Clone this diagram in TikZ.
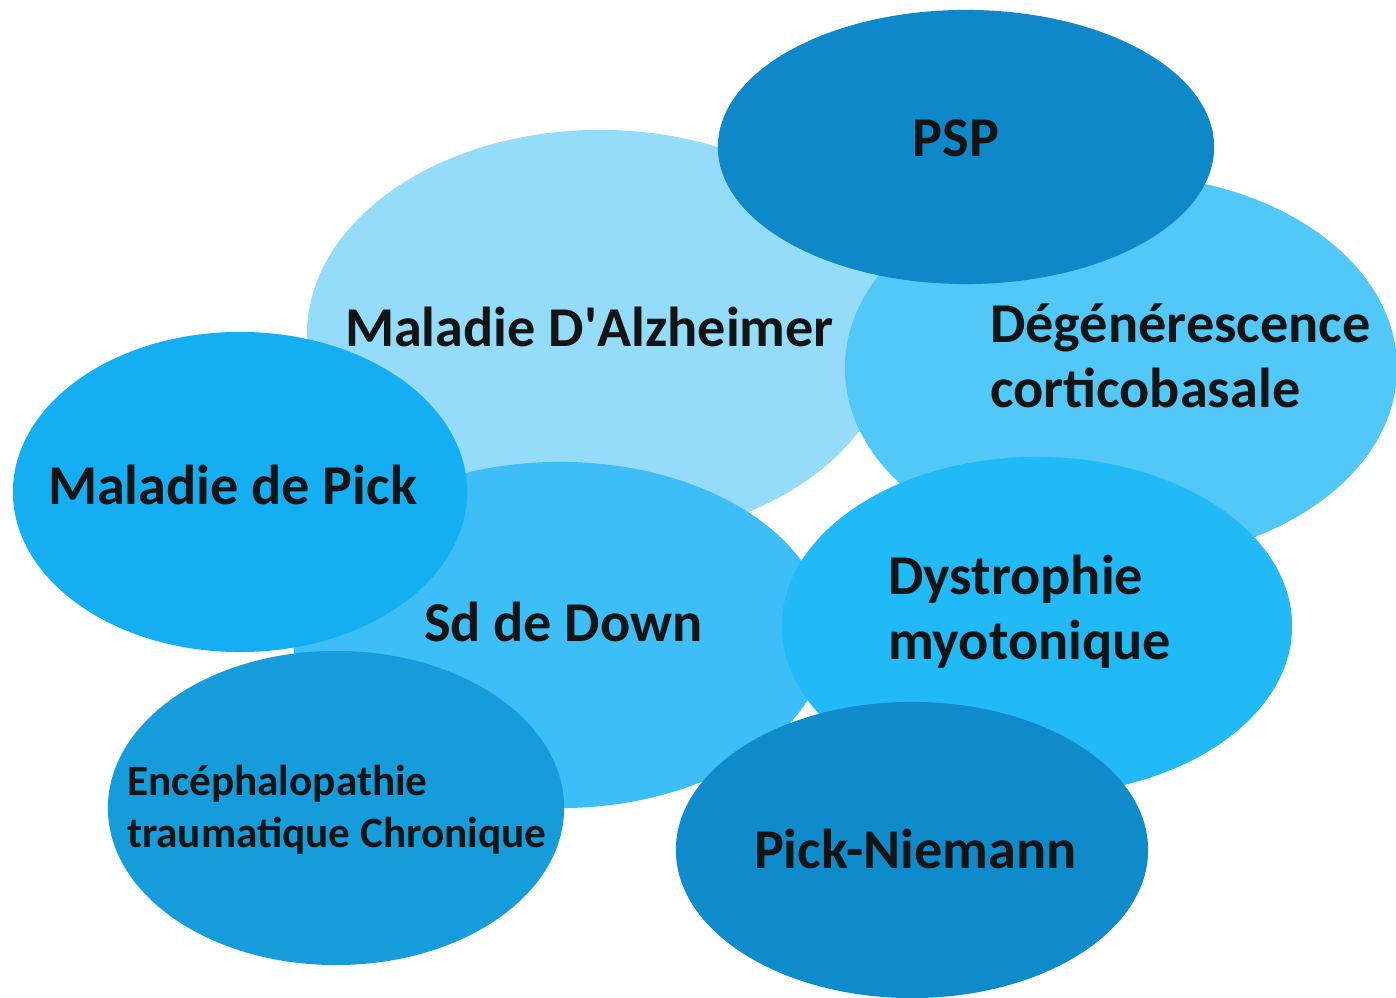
\documentclass[tikz,border=0pt]{standalone}
\usepackage{fontspec}
\setmainfont{Carlito}
\usetikzlibrary{shapes.geometric}
\definecolor{calz}{HTML}{94DCFA}
\definecolor{cpsp}{HTML}{0E88C8}
\definecolor{cdeg}{HTML}{52C8F8}
\definecolor{cdown}{HTML}{3EBEF6}
\definecolor{cpick}{HTML}{16AEF2}
\definecolor{cdys}{HTML}{22B9F7}
\definecolor{cenc}{HTML}{179CDB}
\definecolor{cpn}{HTML}{0F8ACA}
\tikzset{
  blob/.style={ellipse, draw=none, inner sep=0pt, outer sep=0pt},
  lbl/.style={inner sep=0pt, outer sep=0pt, font=\fontsize{16}{18.5}\selectfont\bfseries, text=black!92, align=left},
  lblsmall/.style={lbl, font=\fontsize{12.3}{14.8}\selectfont\bfseries}
}
\begin{document}
\begin{tikzpicture}[x=0.01cm, y=-0.01cm]
\useasboundingbox (0,0) rectangle (1396,998);
% ellipses
\node[blob, fill=calz, minimum width=5.86cm, minimum height=4.10cm] (alz) at (600,335) {};
\node[blob, fill=cdeg, minimum width=5.52cm, minimum height=3.86cm] (deg) at (1121,368) {};
\node[blob, fill=cpsp, minimum width=4.96cm, minimum height=2.74cm] (psp) at (966,147) {};
\node[blob, fill=cdown, minimum width=5.34cm, minimum height=3.46cm] (down) at (560,635) {};
\node[blob, fill=cpick, minimum width=4.54cm, minimum height=3.20cm] (pick) at (240,492) {};
\node[blob, fill=cdys, minimum width=5.10cm, minimum height=3.38cm] (dys) at (1037,626) {};
\node[blob, fill=cenc, minimum width=4.56cm, minimum height=3.14cm] (enc) at (336,808) {};
\node[blob, fill=cpn, minimum width=4.72cm, minimum height=2.96cm] (pn) at (912,850) {};
% labels
\node[lbl, anchor=base west] (talz) at (345,347) {Maladie D\textquotesingle Alzheimer};
\node[lbl, anchor=base] (tpsp) at (956,157) {PSP};
\node[lbl, anchor=base west] (tdeg) at (990,408) {Dégénérescence\\corticobasale};
\node[lbl, anchor=base west] (tpick) at (48,505) {Maladie de Pick};
\node[lbl, anchor=base west] (tdown) at (424,642) {Sd de Down};
\node[lbl, anchor=base west] (tdys) at (888,660) {Dystrophie\\myotonique};
\node[lblsmall, anchor=base west] (tenc) at (127,848) {Encéphalopathie\\traumatique Chronique};
\node[lbl, anchor=base west] (tpn) at (754,869) {Pick-Niemann};
\end{tikzpicture}
\end{document}
